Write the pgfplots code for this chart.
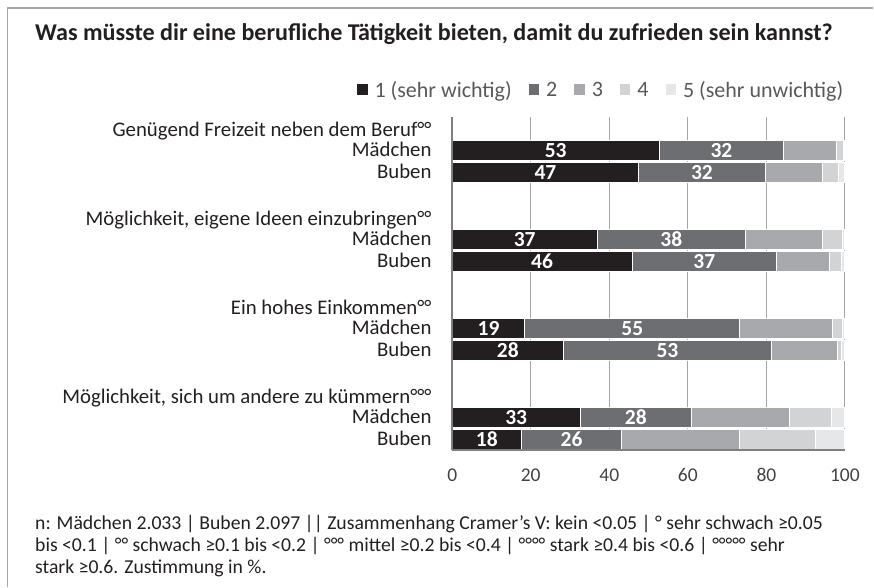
\documentclass[border=0pt]{standalone}
\usepackage{pgfplots}
\pgfplotsset{compat=1.18}
\usepackage{pgfplotstable}
\usepackage{fontspec}
\setmainfont{Carlito}
\definecolor{cA}{HTML}{231F20}
\definecolor{cB}{HTML}{6D6E71}
\definecolor{cC}{HTML}{A7A9AC}
\definecolor{cD}{HTML}{D1D3D4}
\definecolor{cE}{HTML}{E6E7E8}
\definecolor{framegray}{HTML}{A6A6A6}
\definecolor{axgray}{HTML}{7F7F7F}
\definecolor{gridgray}{HTML}{A5A5A5}
\definecolor{leggray}{HTML}{595959}
\definecolor{txt}{HTML}{231F20}

\pgfplotstableread{
y s1 s2 s3 s4 s5
-1 52.7 31.7 13.5 1.8 0.3
-2 47.5 32.2 14.5 4.2 1.6
-5 36.9 37.8 19.7 4.9 0.7
-6 45.8 36.8 13.4 3.2 0.8
-9 18.5 54.7 23.7 2.6 0.5
-10 28.3 53.0 16.7 1.2 0.8
-13 32.6 28.3 24.9 10.9 3.3
-14 17.6 25.6 30.0 19.3 7.5
}\bars

\pgfplotstableread{
x y t
26.35 -1 53
68.55 -1 32
23.75 -2 47
63.6 -2 32
18.45 -5 37
55.8 -5 38
22.9 -6 46
64.2 -6 37
9.25 -9 19
45.85 -9 55
14.15 -10 28
54.8 -10 53
16.3 -13 33
46.75 -13 28
8.8 -14 18
30.4 -14 26
}\labs

\begin{document}
\begin{tikzpicture}
\path (0pt,0pt) rectangle (874pt,587pt);
\draw[framegray, line width=1.2pt] (7.5pt,0pt) -- (7.5pt,579pt) -- (874pt,579pt);
\node[anchor=base west, inner sep=0pt, font=\fontsize{24.1}{28}\selectfont\bfseries, text=txt] at (35pt,546.3pt) {Was müsste dir eine berufliche Tätigkeit bieten, damit du zufrieden sein kannst?};

\begin{axis}[
  at={(452.5pt,136.3pt)}, anchor=south west,
  scale only axis, width=393pt, height=333.7pt,
  xmin=0, xmax=100, ymin=-14.5, ymax=0.5,
  xbar stacked, bar width=0.9,
  axis lines=left, axis line style={draw=none},
  xtick={0,20,40,60,80,100},
  xmajorgrids, grid style={gridgray, line width=1pt},
  major tick length=0pt,
  ytick={-0.1,-1,-2,-4.1,-5,-6,-8.1,-9,-10,-12.1,-13,-14},
  yticklabels={{Genügend Freizeit neben dem Beruf°°},Mädchen,Buben,
    {Möglichkeit, eigene Ideen einzubringen°°},Mädchen,Buben,
    {Ein hohes Einkommen°°},Mädchen,Buben,
    {Möglichkeit, sich um andere zu kümmern°°°},Mädchen,Buben},
  yticklabel style={anchor=base east, inner sep=0pt, xshift=-20.5pt, yshift=-6.5pt, font=\fontsize{20.8}{24}\selectfont, text=txt},
  xticklabel style={anchor=north, inner sep=0pt, yshift=-18pt, font=\fontsize{19.5}{23}\selectfont, text=txt!85},
  /pgf/number format/assume math mode=true,
  legend style={at={(1.0038,1.081)}, anchor=east, draw=none, fill=none,
    font=\fontsize{22}{26}\selectfont, text=leggray, inner sep=0pt,
    /tikz/every even column/.append style={column sep=14pt},
    /tikz/every odd column/.append style={column sep=4pt},
    nodes={inner sep=3pt}},
  legend columns=-1,
  legend image code/.code={\fill[#1,draw=none] (0pt,-5pt) rectangle (10.5pt,5.5pt);},
]
\addplot[fill=cA, draw=white, line width=1pt] table[x=s1,y=y]{\bars};
\addlegendentry{1 (sehr wichtig)}
\addplot[fill=cB, draw=white, line width=1pt] table[x=s2,y=y]{\bars};
\addlegendentry{2}
\addplot[fill=cC, draw=white, line width=1pt] table[x=s3,y=y]{\bars};
\addlegendentry{3}
\addplot[fill=cD, draw=white, line width=1pt] table[x=s4,y=y]{\bars};
\addlegendentry{4}
\addplot[fill=cE, draw=white, line width=1pt] table[x=s5,y=y]{\bars};
\addlegendentry{5 (sehr unwichtig)}
\end{axis}

\begin{axis}[
  at={(452.5pt,136.3pt)}, anchor=south west,
  scale only axis, width=393pt, height=333.7pt,
  xmin=0, xmax=100, ymin=-14.5, ymax=0.5,
  axis lines=left, axis line style={-, axgray, line width=1.8pt},
  xtick=\empty, ytick=\empty,
]
\addplot[draw=none, mark=none, nodes near coords, point meta=explicit symbolic,
  every node near coord/.style={anchor=center, inner sep=0pt, text=white, font=\fontsize{21.5}{24}\selectfont\bfseries}]
  table[x=x,y=y,meta=t]{\labs};
\end{axis}

\node[anchor=base west, inner sep=0pt, font=\fontsize{19.7}{22}\selectfont, text=txt] at (35pt,57pt) {n: Mädchen 2.033 | Buben 2.097 || Zusammenhang Cramer’s V: kein <0.05 | ° sehr schwach ≥0.05};
\node[anchor=base west, inner sep=0pt, font=\fontsize{19.7}{22}\selectfont, text=txt] at (35pt,35pt) {bis <0.1 | °° schwach ≥0.1 bis <0.2 | °°° mittel ≥0.2 bis <0.4 | °°°° stark ≥0.4 bis <0.6 | °°°°° sehr};
\node[anchor=base west, inner sep=0pt, font=\fontsize{19.7}{22}\selectfont, text=txt] at (35pt,13pt) {stark ≥0.6. Zustimmung in \%.};
\end{tikzpicture}
\end{document}
